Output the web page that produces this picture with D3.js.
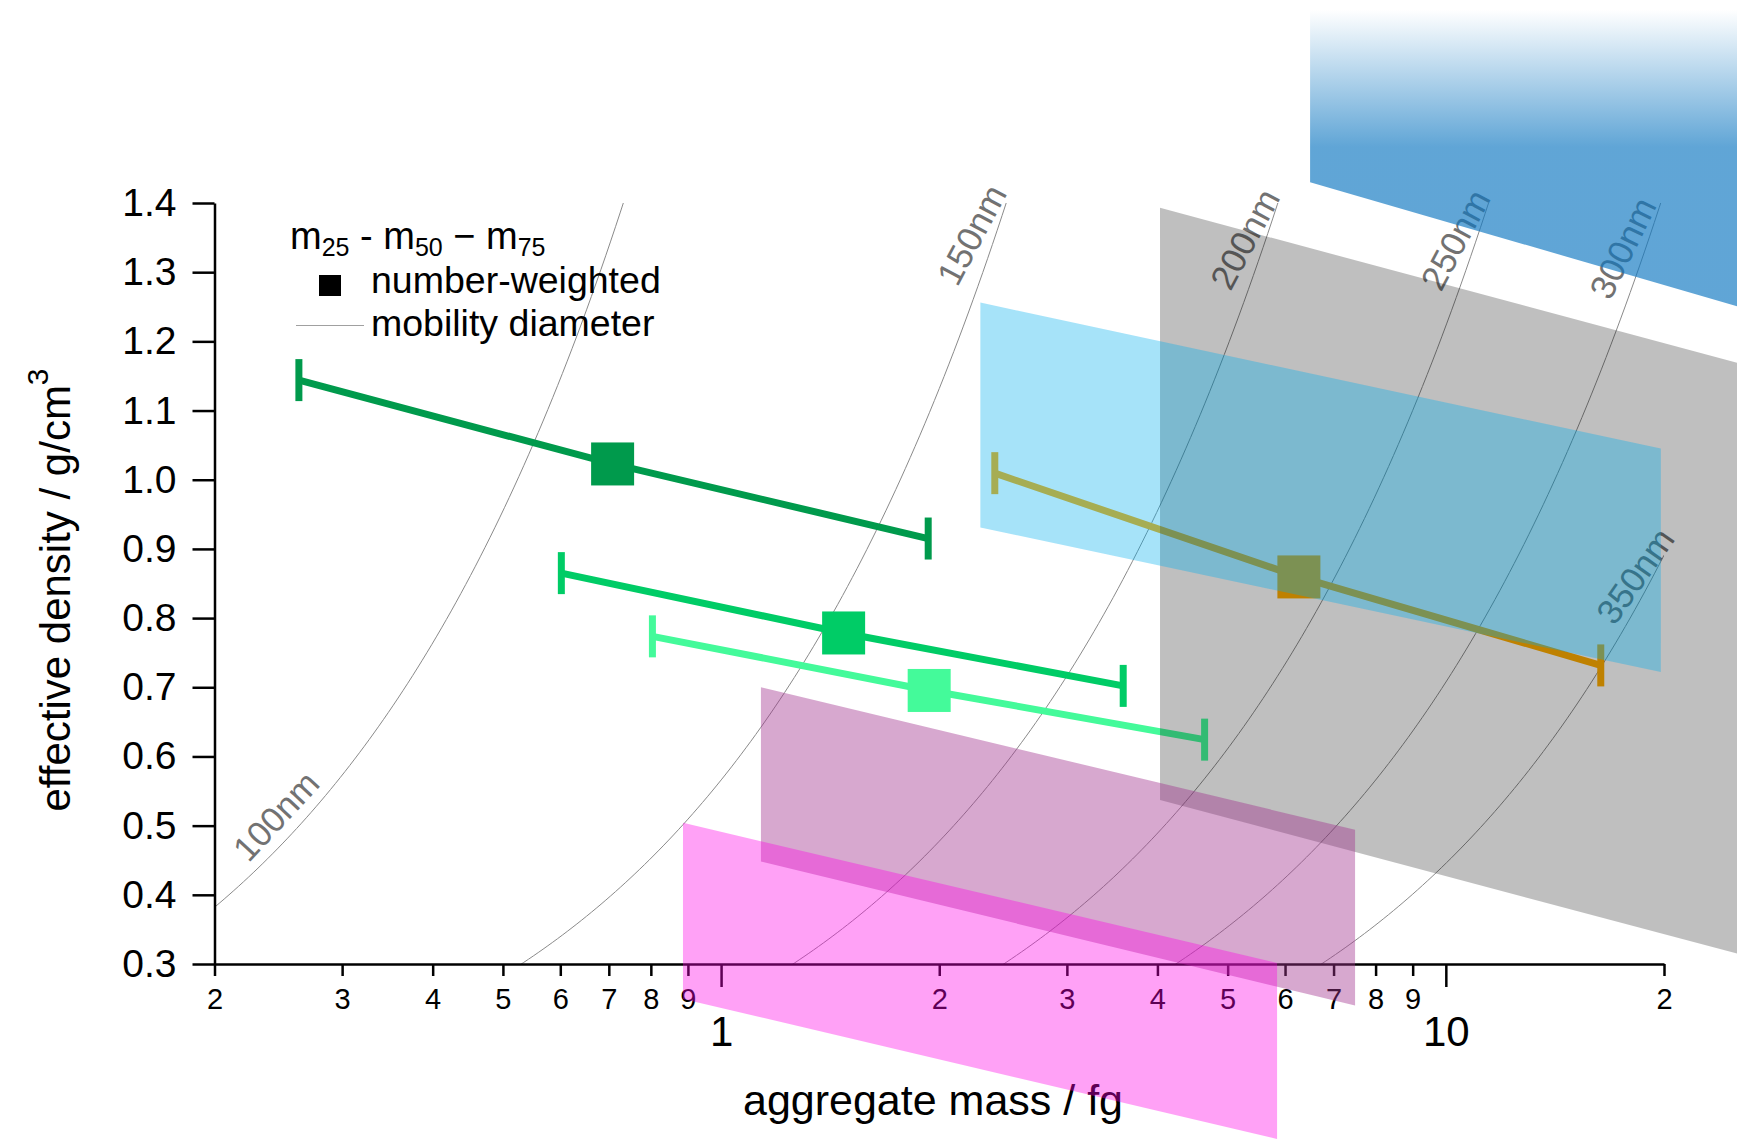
<!DOCTYPE html>
<html>
<head>
<meta charset="utf-8">
<script src="https://cdnjs.cloudflare.com/ajax/libs/d3/7.8.5/d3.min.js"></script>
<style>
  body { margin: 0; background: #fff; }
  svg { display: block; font-family: "Liberation Sans", Arial, sans-serif; }
</style>
</head>
<body>
<svg id="chart"></svg>
<script>
    // ============ DATA (mass in fg, effective density in g/cm3) ============
    // each series: m25, m50, m75
    var seriesColors = ["#009a4c", "#00cc66", "#44fa9a", "#ffad00"];
    var seriesMass = [
        [0.2615, 0.7085, 1.931],
        [0.602, 1.476, 3.588],
        [0.804, 1.937, 4.647],
        [2.386, 6.27, 16.36]
    ];
    var seriesDensity = [
        [1.144, 1.0228, 0.915],
        [0.865, 0.7785, 0.702],
        [0.7736, 0.6954, 0.6243],
        [1.0095, 0.8595, 0.7316]
    ];

    // mobility diameter guide lines (nm) and where their labels sit (density)
    var diameters = [100, 150, 200, 250, 300, 350];
    var diameterLabelDensity = [0.514, 1.354, 1.348, 1.347, 1.335, 0.861];

    // shaded literature regions, corners as [mass, density]
    var regionGray = [[4.033, 1.393], [30, 1.148], [30, 0.294], [4.033, 0.537]];
    var regionLightBlue = [[2.279, 1.256], [19.8, 1.045], [19.8, 0.722], [2.279, 0.931]];
    var regionPurple = [[1.135, 0.700], [7.495, 0.494], [7.495, 0.240], [1.135, 0.448]];
    var regionPink = [[0.886, 0.504], [5.85, 0.3016], [5.85, 0.047], [0.886, 0.2495]];
    var regionBlue = [[6.497, 1.75], [30, 1.75], [30, 1.228], [6.497, 1.430]];

    var yTicks = [0.3, 0.4, 0.5, 0.6, 0.7, 0.8, 0.9, 1.0, 1.1, 1.2, 1.3, 1.4];
    var xMinorTicks = [0.2, 0.3, 0.4, 0.5, 0.6, 0.7, 0.8, 0.9, 2, 3, 4, 5, 6, 7, 8, 9, 20];
    var xMajorTicks = [1, 10];

    // ============ SETUP =================
    var width = 1737;
    var height = 1139;
    var svg = d3.select("#chart")
        .attr("width", width)
        .attr("height", height);

    var x = d3.scaleLog().domain([0.2, 20]).range([214.5, 1664]);
    var y = d3.scaleLinear().domain([0.3, 1.4]).range([964, 203]);

    var defs = svg.append("defs");
    defs.append("clipPath").attr("id", "plotClip")
        .append("rect")
        .attr("x", x(0.2))
        .attr("y", y(1.4))
        .attr("width", x(20) - x(0.2))
        .attr("height", y(0.3) - y(1.4));

    var blueGrad = defs.append("linearGradient")
        .attr("id", "blueGrad")
        .attr("gradientUnits", "userSpaceOnUse")
        .attr("x1", 0).attr("x2", 0)
        .attr("y1", y(1.679)).attr("y2", y(1.481));
    blueGrad.append("stop").attr("offset", 0).attr("stop-color", "#0e77c1").attr("stop-opacity", 0);
    blueGrad.append("stop").attr("offset", 1).attr("stop-color", "#0e77c1").attr("stop-opacity", 0.66);

    // ============ MOBILITY DIAMETER LINES =================
    // rho = m / (pi/6 d^3), m in fg, d in nm
    function densityAt(m, d) { return 6e6 * m / (Math.PI * d * d * d); }
    function massAt(rho, d) { return rho * Math.PI * d * d * d / 6e6; }

    var massGrid = d3.range(0, 301).map(function (i) { return 0.2 * Math.pow(100, i / 300); });

    var curveLine = d3.line()
        .x(function (m) { return x(m); });

    var curves = svg.append("g").attr("clip-path", "url(#plotClip)");
    diameters.forEach(function (d) {
        curves.append("path")
            .attr("d", curveLine.y(function (m) { return y(densityAt(m, d)); })(massGrid))
            .attr("fill", "none")
            .attr("stroke", "#8a8a8a")
            .attr("stroke-width", 1);
    });

    var labelShift = [-32, -24, -21, -21, -23, -18];
    var labelAngle = [-47, -62, -62, -62, -64, -55];
    diameters.forEach(function (d, i) {
        var rho = diameterLabelDensity[i];
        var px = x(massAt(rho, d)) + labelShift[i];
        var py = y(rho);
        svg.append("text")
            .attr("transform", "translate(" + px + "," + py + ") rotate(" + labelAngle[i] + ")")
            .attr("text-anchor", "middle")
            .attr("dy", "0.35em")
            .attr("font-size", 35)
            .attr("fill", "#727272")
            .text(d + "nm");
    });

    // ============ LEGEND =================
    var legend = svg.append("g");
    var title = legend.append("text").attr("x", 290).attr("y", 249).attr("font-size", 38);
    title.append("tspan").text("m");
    title.append("tspan").attr("font-size", 25).attr("dy", 7).text("25");
    title.append("tspan").attr("dy", -7).text(" - m");
    title.append("tspan").attr("font-size", 25).attr("dy", 7).text("50");
    title.append("tspan").attr("dy", -7).text(" \u2212 m");
    title.append("tspan").attr("font-size", 25).attr("dy", 7).text("75");

    legend.append("rect")
        .attr("x", 319).attr("y", 275).attr("width", 22).attr("height", 21)
        .attr("fill", "#000");
    legend.append("text").attr("x", 371).attr("y", 293).attr("font-size", 37.5).text("number-weighted");
    legend.append("line")
        .attr("x1", 296).attr("x2", 364).attr("y1", 325.5).attr("y2", 325.5)
        .attr("stroke", "#a0a0a0").attr("stroke-width", 1);
    legend.append("text").attr("x", 371).attr("y", 336).attr("font-size", 37.5).text("mobility diameter");

    // ============ SERIES =================
    var seriesLine = d3.line()
        .x(function (p) { return x(p[0]); })
        .y(function (p) { return y(p[1]); });

    seriesMass.forEach(function (masses, i) {
        var pts = masses.map(function (m, j) { return [m, seriesDensity[i][j]]; });
        var g = svg.append("g");
        g.append("path")
            .attr("d", seriesLine(pts))
            .attr("fill", "none")
            .attr("stroke", seriesColors[i])
            .attr("stroke-width", 7);
        g.selectAll(".cap")
            .data([pts[0], pts[2]])
            .enter().append("line")
            .attr("x1", function (p) { return x(p[0]); })
            .attr("x2", function (p) { return x(p[0]); })
            .attr("y1", function (p) { return y(p[1]) - 21; })
            .attr("y2", function (p) { return y(p[1]) + 21; })
            .attr("stroke", seriesColors[i])
            .attr("stroke-width", 7);
        g.append("rect")
            .attr("x", x(pts[1][0]) - 21.5)
            .attr("y", y(pts[1][1]) - 21.5)
            .attr("width", 43)
            .attr("height", 43)
            .attr("fill", seriesColors[i]);
    });

    // ============ AXES =================
    function styleAxis(g) {
        g.attr("font-family", null);
        g.select(".domain").attr("stroke", "#000").attr("stroke-width", 2.5);
        g.selectAll(".tick line").attr("stroke", "#000").attr("stroke-width", 2.5);
        g.selectAll(".tick text").attr("fill", "#000");
    }

    svg.append("g")
        .attr("transform", "translate(" + x(0.2) + ",0)")
        .call(d3.axisLeft(y).tickValues(yTicks).tickSize(22).tickSizeOuter(0).tickPadding(16)
            .tickFormat(d3.format(".1f")))
        .call(styleAxis)
        .attr("font-size", 39);

    svg.append("g")
        .attr("transform", "translate(0," + y(0.3) + ")")
        .call(d3.axisBottom(x).tickValues(xMinorTicks).tickSize(12).tickSizeOuter(0).tickPadding(12)
            .tickFormat(function (v) { return Math.round(v / Math.pow(10, Math.floor(Math.log10(v) + 1e-9))); }))
        .call(styleAxis)
        .attr("font-size", 29);

    var xMajor = svg.append("g")
        .attr("transform", "translate(0," + y(0.3) + ")")
        .call(d3.axisBottom(x).tickValues(xMajorTicks).tickSize(23).tickSizeOuter(0).tickPadding(29)
            .tickFormat(d3.format("d")))
        .call(styleAxis)
        .attr("font-size", 42);
    xMajor.select(".domain").remove();

    svg.append("text")
        .attr("x", 933).attr("y", 1115)
        .attr("text-anchor", "middle")
        .attr("font-size", 43)
        .text("aggregate mass / fg");

    var yTitle = svg.append("text")
        .attr("transform", "translate(70,590) rotate(-90)")
        .attr("text-anchor", "middle")
        .attr("font-size", 42);
    yTitle.append("tspan").text("effective density / g/cm");
    yTitle.append("tspan").attr("font-size", 30).attr("dy", -22).text("3");

    // ============ SHADED REGIONS (drawn over everything) =================
    var regionLine = d3.line()
        .x(function (p) { return x(p[0]); })
        .y(function (p) { return y(p[1]); });

    function addRegion(corners, fill, opacity) {
        svg.append("path")
            .attr("d", regionLine(corners) + "Z")
            .attr("fill", fill)
            .attr("fill-opacity", opacity);
    }
    addRegion(regionGray, "#000000", 0.25);
    addRegion(regionLightBlue, "#00aeef", 0.35);
    addRegion(regionPurple, "#a33590", 0.43);
    addRegion(regionPink, "#ff00e6", 0.37);
    addRegion(regionBlue, "url(#blueGrad)", 1);
</script>
</body>
</html>
